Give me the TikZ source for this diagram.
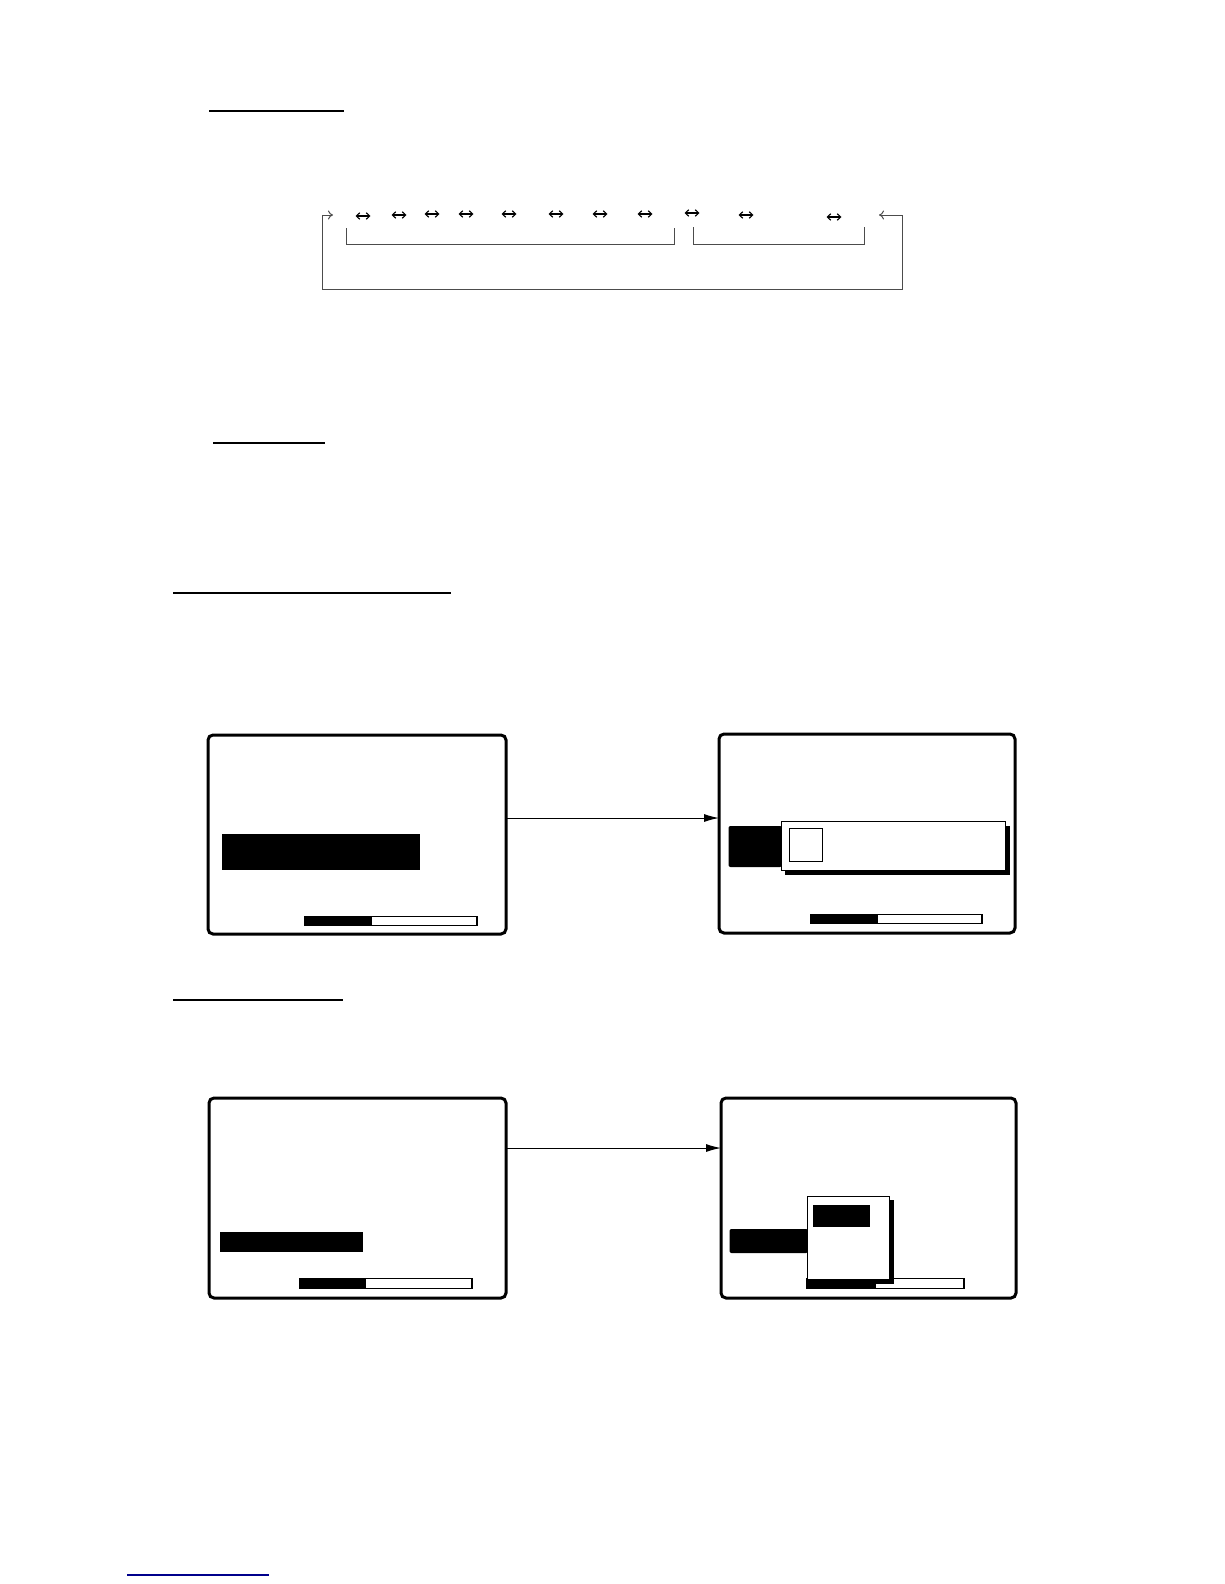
\documentclass[tikz,border=0pt]{standalone}
\usetikzlibrary{arrows.meta}
\begin{document}
\begin{tikzpicture}[x=1pt,y=-1pt,
  screen/.style={draw,line width=3pt,rounded corners=5pt,anchor=north west,inner sep=0pt,outer sep=0pt},
  conn/.style={line width=1pt,-{Latex[length=15pt,width=8pt]}},
  uline/.style={line width=1.6pt},
  thin/.style={draw=black!70,line width=1pt},
  dbl/.style={line width=1.1pt,{Straight Barb[length=3.5pt,width=6.5pt]}-{Straight Barb[length=3.5pt,width=6.5pt]}},
  pbar/.style={line width=1.2pt,fill=white},
  popup/.style={line width=1pt,fill=white}]
\useasboundingbox (0,0) rectangle (1224,1584);

% section underlines
\draw[uline] (209,111) -- (344,111);
\draw[uline] (213,443) -- (325,443);
\draw[uline] (173,593) -- (451,593);
\draw[uline] (173,1000) -- (343,1000);
\draw[line width=1.3pt,draw={rgb,255:red,0;green,0;blue,140}] (127,1575) -- (269,1575);

% top sequence diagram
\foreach \cx/\cy in {363/216,399/215,432/214,466/214,509/214,556/214,600/214,645/214,692/213,746/215,834/217}
  \draw[dbl] (\cx-7.5,\cy) -- (\cx+7.5,\cy);
\draw[thin] (346,228) -- (346,244) -- (674,244) -- (674,228);
\draw[thin] (693,227) -- (693,244) -- (864,244) -- (864,227);
\draw[thin,{To[length=5pt,width=9pt]}-{To[length=5pt,width=9pt]}] (333,215) -- (322.5,215) -- (322.5,289) -- (902,289) -- (902,215) -- (879,215);

% screens, first pair
\node[screen,minimum width=298pt,minimum height=199pt] (s1) at (208,735) {};
\fill (222,834) rectangle (420,870);
\draw[pbar] (305,916.5) rectangle (477,925.5);
\fill (305,916.5) rectangle (372,925.5);

\node[screen,minimum width=296pt,minimum height=199pt] (s2) at (719,734) {};
\fill[rounded corners=2pt] (728.5,826) rectangle (782,867);
\fill (785,826) rectangle (1010,875);
\draw[popup] (781,821) rectangle (1005,870);
\draw[line width=1.8pt] (789.5,828.5) rectangle (822.5,861.5);
\draw[pbar] (811,914.5) rectangle (982,923.5);
\fill (811,914.5) rectangle (878,923.5);

\coordinate (a1) at (506,818);
\draw[conn] (a1) -- (a1 -| s2.west);

% screens, second pair
\node[screen,minimum width=297pt,minimum height=200pt] (s3) at (209,1098) {};
\fill (220,1232) rectangle (363,1252);
\draw[pbar] (299.5,1278.5) rectangle (472,1288.5);
\fill (299.5,1278.5) rectangle (366,1288.5);

\node[screen,minimum width=295pt,minimum height=200pt] (s4) at (721,1098) {};
\fill[rounded corners=2pt] (729.5,1229) rectangle (808,1253);
\draw[pbar] (807,1278.5) rectangle (964,1288.5);
\fill (807,1278.5) rectangle (876,1288.5);
\fill (812,1200) rectangle (894,1284);
\draw[popup] (807,1196) rectangle (889,1279.5);
\fill (813,1205) rectangle (870,1227);

\coordinate (a2) at (506,1148);
\draw[conn] (a2) -- (a2 -| s4.west);
\end{tikzpicture}
\end{document}
